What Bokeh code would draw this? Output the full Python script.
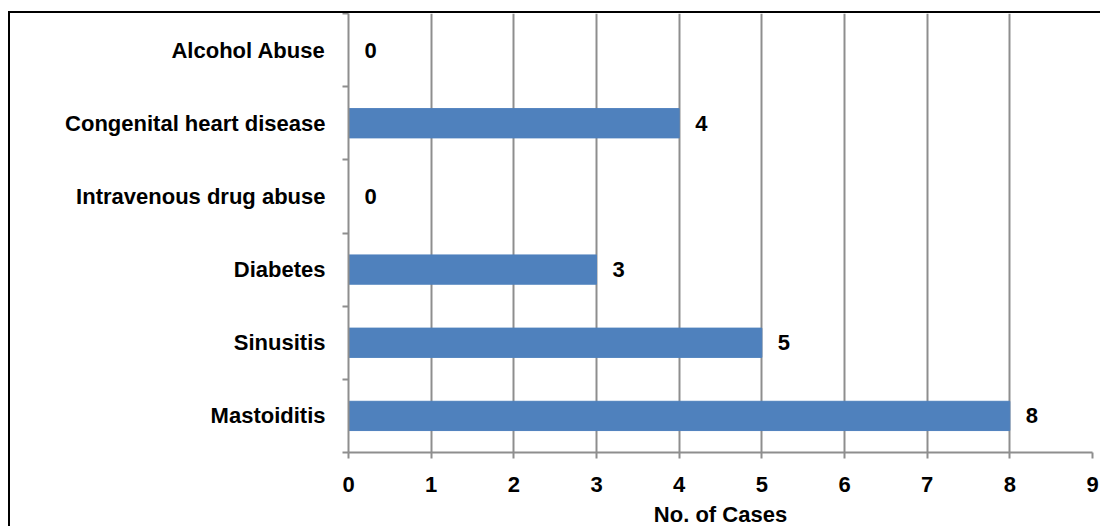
from bokeh.plotting import figure
from bokeh.models import ColumnDataSource, Range1d, FixedTicker
from bokeh.core.properties import value
from bokeh.embed import file_html
from bokeh.resources import INLINE

categories = ["Alcohol Abuse", "Congenital heart disease", "Intravenous drug abuse",
              "Diabetes", "Sinusitis", "Mastoiditis"]
cases = [0, 4, 0, 3, 5, 8]
x_ticks = [0, 1, 2, 3, 4, 5, 6, 7, 8, 9]
x_title = "No. of Cases"

FONT = "Liberation Sans"
FS = "22px"
GRID = "#8e8e8e"

n = len(categories)
# row positions: first category on top
ypos = [n - i - 0.5 for i in range(n)]
src = ColumnDataSource(dict(y=ypos, val=cases, lab=[str(v) for v in cases]))

p = figure(
    y_range=Range1d(0, n),
    x_range=Range1d(0, 9),
    frame_width=744, frame_height=439,
    min_border_left=338, min_border_right=8, min_border_top=0, min_border_bottom=72,
    output_backend="svg", toolbar_location=None,
)
p.margin = (11, 0, 0, 8)
p.styles = {"border-left": "2px solid black", "border-top": "2px solid black"}

p.hbar(y="y", right="val", left=0, height=0.4, source=src,
       fill_color="#4F81BD", line_color="#4F81BD")
p.text(x="val", y="y", text="lab", source=src, x_offset=16,
       text_baseline="middle", text_align="left",
       text_font=value(FONT), text_font_size=FS, text_font_style="bold",
       text_color="black")

p.xaxis.ticker = FixedTicker(ticks=x_ticks)
p.xaxis.axis_label = x_title
p.xaxis.axis_label_text_font = FONT
p.xaxis.axis_label_text_font_size = FS
p.xaxis.axis_label_text_font_style = "bold"
p.xaxis.axis_label_text_color = "black"
p.xaxis.axis_label_standoff = 7
p.xaxis.major_label_standoff = 18
p.xaxis.major_tick_in = 0
p.xaxis.major_tick_out = 6

for ax in (p.xaxis, p.yaxis):
    ax.axis_line_color = GRID
    ax.axis_line_width = 2
    ax.major_tick_line_color = GRID
    ax.major_tick_line_width = 2
    ax.major_label_text_font = FONT
    ax.major_label_text_font_size = FS
    ax.major_label_text_font_style = "bold"
    ax.major_label_text_color = "black"
p.xaxis.minor_tick_line_color = None

p.yaxis.ticker = FixedTicker(ticks=ypos, minor_ticks=list(range(n + 1)))
p.yaxis.major_label_overrides = {y: c for y, c in zip(ypos, categories)}
p.yaxis.major_tick_in = 0
p.yaxis.major_tick_out = 0
p.yaxis.minor_tick_in = 0
p.yaxis.minor_tick_out = 6
p.yaxis.minor_tick_line_color = GRID
p.yaxis.minor_tick_line_width = 2
p.yaxis.major_label_standoff = 17

p.ygrid.grid_line_color = None
p.xgrid.grid_line_color = GRID
p.xgrid.grid_line_width = 2
p.xgrid.ticker = FixedTicker(ticks=x_ticks)
p.outline_line_color = None

open("out.html", "w").write(file_html(p, INLINE))
